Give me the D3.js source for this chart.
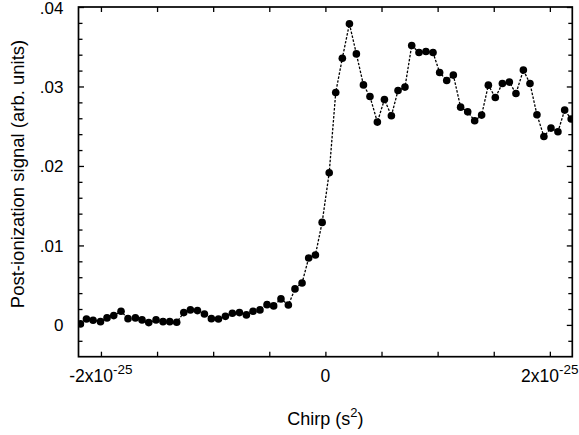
<!DOCTYPE html>
<html>
<head>
<meta charset="utf-8">
<script src="https://cdn.jsdelivr.net/npm/d3@7"></script>
<style>
  body { margin: 0; background: #fff; }
  svg { display: block; font-family: "Liberation Sans", Arial, sans-serif; }
</style>
</head>
<body>
<div id="chart-container"></div>
<script>
// chirp in units of 1e-25 s^2
const chirp = [-2.183, -2.129, -2.070, -2.004, -1.946, -1.886, -1.821, -1.759, -1.693, -1.634,
  -1.574, -1.509, -1.447, -1.387, -1.325, -1.262, -1.203, -1.140, -1.078, -1.016,
  -0.953, -0.891, -0.829, -0.766, -0.704, -0.645, -0.583, -0.520, -0.461, -0.396,
  -0.330, -0.271, -0.208, -0.149, -0.089, -0.029, 0.034, 0.092, 0.151, 0.214,
  0.276, 0.339, 0.397, 0.463, 0.526, 0.588, 0.647, 0.709, 0.769, 0.834,
  0.896, 0.959, 1.018, 1.081, 1.140, 1.205, 1.268, 1.330, 1.392, 1.452,
  1.514, 1.577, 1.639, 1.698, 1.764, 1.823, 1.885, 1.947, 2.010, 2.072,
  2.132, 2.190];
const signal = [0.00013, 0.00075, 0.00058, 0.00041, 0.00088, 0.00117, 0.00171, 0.00079, 0.00088, 0.00063,
  0.00029, 0.00063, 0.00041, 0.00041, 0.00033, 0.00155, 0.00189, 0.00180, 0.00138, 0.00079,
  0.00075, 0.00108, 0.00146, 0.00155, 0.00126, 0.00171, 0.00189, 0.00255, 0.00239, 0.00327,
  0.00251, 0.00453, 0.00528, 0.00842, 0.00880, 0.01290, 0.01915, 0.02924, 0.03356, 0.03788,
  0.03410, 0.03020, 0.02874, 0.02552, 0.02836, 0.02631, 0.02949, 0.02992, 0.03515, 0.03427,
  0.03440, 0.03427, 0.03175, 0.03075, 0.03143, 0.02740, 0.02681, 0.02568, 0.02640, 0.03017,
  0.02861, 0.03037, 0.03055, 0.02911, 0.03206, 0.03037, 0.02644, 0.02371, 0.02476, 0.02430,
  0.02703, 0.02590];

const xDomain = [-2.2, 2.2];
const yDomain = [-0.004, 0.04];
const xTicks = [-2, -1.5, -1, -0.5, 0, 0.5, 1, 1.5, 2];
const xTickLabels = [[-2, '-2x10', '-25'], [0, '0', ''], [2, '2x10', '-25']];
const yTicks = [-0.002, 0, 0.002, 0.004, 0.006, 0.008, 0.01, 0.012, 0.014, 0.016, 0.018, 0.02,
  0.022, 0.024, 0.026, 0.028, 0.03, 0.032, 0.034, 0.036, 0.038, 0.04];
const yTickLabels = [[0.04, '.04'], [0.03, '.03'], [0.02, '.02'], [0.01, '.01'], [0, '0']];

const svgWidth = 579, svgHeight = 435;
const plotLeft = 78.5, plotRight = 572.3, plotTop = 7, plotBottom = 356.7;

const svg = d3.select('#chart-container')
  .append('svg')
  .attr('width', svgWidth)
  .attr('height', svgHeight);

const xScale = d3.scaleLinear().domain(xDomain).range([plotLeft, plotRight]);
const yScale = d3.scaleLinear().domain(yDomain).range([plotBottom, plotTop]);

svg.append('clipPath').attr('id', 'plot-clip')
  .append('rect')
  .attr('x', plotLeft).attr('y', plotTop)
  .attr('width', plotRight - plotLeft).attr('height', plotBottom - plotTop);

// inward ticks on all four sides
const tickLen = v => (Math.abs(Math.round(v * 1000) % 10) === 0 ? 5.5 : 4);
const axisStyle = g => {
  g.select('.domain').remove();
  g.selectAll('line').attr('stroke', '#000').attr('stroke-width', 1.3);
  g.selectAll('text').remove();
};

svg.append('g').attr('transform', `translate(0,${plotBottom})`)
  .call(d3.axisBottom(xScale).tickValues(xTicks).tickSizeInner(-5).tickSizeOuter(0))
  .call(axisStyle);
svg.append('g').attr('transform', `translate(0,${plotTop})`)
  .call(d3.axisTop(xScale).tickValues(xTicks).tickSizeInner(-5).tickSizeOuter(0))
  .call(axisStyle);

const yLeft = svg.append('g').attr('transform', `translate(${plotLeft},0)`)
  .call(d3.axisLeft(yScale).tickValues(yTicks).tickSizeOuter(0))
  .call(axisStyle);
yLeft.selectAll('.tick line').attr('x2', d => tickLen(d));
const yRight = svg.append('g').attr('transform', `translate(${plotRight},0)`)
  .call(d3.axisRight(yScale).tickValues(yTicks).tickSizeOuter(0))
  .call(axisStyle);
yRight.selectAll('.tick line').attr('x2', d => -tickLen(d));

// frame
svg.append('rect')
  .attr('x', plotLeft).attr('y', plotTop)
  .attr('width', plotRight - plotLeft).attr('height', plotBottom - plotTop)
  .attr('fill', 'none').attr('stroke', '#000').attr('stroke-width', 1.7);

// tick labels
svg.selectAll('.ylab')
  .data(yTickLabels)
  .enter()
  .append('text')
  .attr('class', 'ylab')
  .attr('x', plotLeft - 15)
  .attr('y', d => yScale(d[0]) + 6.5)
  .attr('text-anchor', 'end')
  .attr('font-size', 17)
  .text(d => d[1]);

const xl = svg.selectAll('.xlab')
  .data(xTickLabels)
  .enter()
  .append('text')
  .attr('class', 'xlab')
  .attr('x', d => xScale(d[0]))
  .attr('y', 382)
  .attr('text-anchor', 'middle')
  .attr('font-size', 17.5);
xl.append('tspan').text(d => d[1]);
xl.append('tspan').attr('dy', -8).attr('font-size', 13.5).text(d => d[2]);

// axis titles
const xt = svg.append('text')
  .attr('x', xScale(0))
  .attr('y', 425)
  .attr('text-anchor', 'middle')
  .attr('font-size', 18);
xt.append('tspan').text('Chirp (s');
xt.append('tspan').attr('dy', -8).attr('font-size', 13).text('2');
xt.append('tspan').attr('dy', 8).text(')');

svg.append('text')
  .attr('transform', `translate(24,174) rotate(-90)`)
  .attr('text-anchor', 'middle')
  .attr('font-size', 18.5)
  .text('Post-ionization signal (arb. units)');

// data
const points = chirp.map((c, i) => [c, signal[i]]);
const plot = svg.append('g').attr('clip-path', 'url(#plot-clip)');

plot.append('path')
  .datum(points)
  .attr('fill', 'none')
  .attr('stroke', '#000')
  .attr('stroke-width', 1.3)
  .attr('stroke-dasharray', '2.5,1.5')
  .attr('d', d3.line().x(d => xScale(d[0])).y(d => yScale(d[1])));

plot.selectAll('circle')
  .data(points)
  .enter()
  .append('circle')
  .attr('cx', d => xScale(d[0]))
  .attr('cy', d => yScale(d[1]))
  .attr('r', 3.8)
  .attr('fill', '#000');
</script>
</body>
</html>
